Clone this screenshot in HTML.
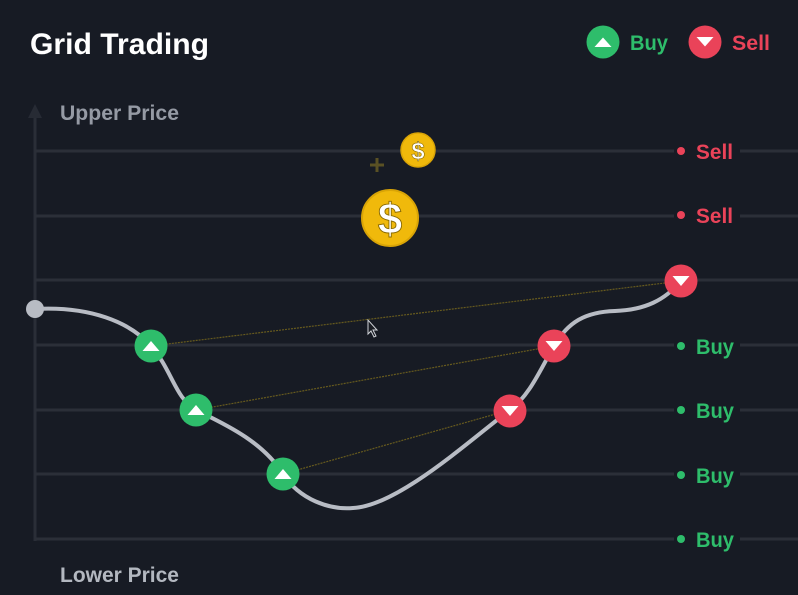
<!DOCTYPE html>
<html>
<head>
<meta charset="utf-8">
<style>
html,body{margin:0;padding:0;background:#171b24;}
svg{display:block;}
text{font-family:"Liberation Sans",sans-serif;font-weight:bold;}
</style>
</head>
<body>
<svg width="798" height="595" viewBox="0 0 798 595" xmlns="http://www.w3.org/2000/svg">
  <rect width="798" height="595" fill="#171b24"/>

  <!-- Title -->
  <text x="30" y="54" font-size="30" fill="#ffffff" textLength="179" lengthAdjust="spacingAndGlyphs">Grid Trading</text>

  <!-- Legend -->
  <circle cx="603" cy="42" r="16.5" fill="#2ebd6b"/>
  <polygon points="594.5,47 611.5,47 603,37.5" fill="#ffffff"/>
  <text x="630" y="50" font-size="21" fill="#2ebd6b" textLength="38" lengthAdjust="spacingAndGlyphs">Buy</text>
  <circle cx="705" cy="42" r="16.5" fill="#ea4359"/>
  <polygon points="696.5,37 713.5,37 705,46.5" fill="#ffffff"/>
  <text x="732" y="50" font-size="21" fill="#ea4359" textLength="38" lengthAdjust="spacingAndGlyphs">Sell</text>

  <!-- Axis -->
  <line x1="35" y1="114" x2="35" y2="541" stroke="#2a2e37" stroke-width="3"/>
  <polygon points="28,118 42,118 35,104" fill="#272b34"/>
  <text x="60" y="120" font-size="21" fill="#959aa4" textLength="119" lengthAdjust="spacingAndGlyphs">Upper Price</text>
  <text x="60" y="582" font-size="21" fill="#b3b8c0" textLength="119" lengthAdjust="spacingAndGlyphs">Lower Price</text>

  <!-- Gridlines -->
  <g stroke="#2b2f38" stroke-width="3">
    <line x1="35" y1="151" x2="674" y2="151"/><line x1="740" y1="151" x2="798" y2="151"/>
    <line x1="35" y1="216" x2="674" y2="216"/><line x1="740" y1="216" x2="798" y2="216"/>
    <line x1="35" y1="280" x2="798" y2="280"/>
    <line x1="35" y1="345" x2="674" y2="345"/><line x1="740" y1="345" x2="798" y2="345"/>
    <line x1="35" y1="410" x2="674" y2="410"/><line x1="740" y1="410" x2="798" y2="410"/>
    <line x1="35" y1="474" x2="674" y2="474"/><line x1="740" y1="474" x2="798" y2="474"/>
    <line x1="35" y1="539" x2="674" y2="539"/><line x1="740" y1="539" x2="798" y2="539"/>
  </g>

  <!-- Right labels -->
  <circle cx="681" cy="151" r="4" fill="#ea4359"/>
  <text x="696" y="159" font-size="21" fill="#ea4359" textLength="37" lengthAdjust="spacingAndGlyphs">Sell</text>
  <circle cx="681" cy="215" r="4" fill="#ea4359"/>
  <text x="696" y="223" font-size="21" fill="#ea4359" textLength="37" lengthAdjust="spacingAndGlyphs">Sell</text>
  <circle cx="681" cy="346" r="4" fill="#2ebd6b"/>
  <text x="696" y="354" font-size="21" fill="#2ebd6b" textLength="38" lengthAdjust="spacingAndGlyphs">Buy</text>
  <circle cx="681" cy="410" r="4" fill="#2ebd6b"/>
  <text x="696" y="418" font-size="21" fill="#2ebd6b" textLength="38" lengthAdjust="spacingAndGlyphs">Buy</text>
  <circle cx="681" cy="475" r="4" fill="#2ebd6b"/>
  <text x="696" y="483" font-size="21" fill="#2ebd6b" textLength="38" lengthAdjust="spacingAndGlyphs">Buy</text>
  <circle cx="681" cy="539" r="4" fill="#2ebd6b"/>
  <text x="696" y="547" font-size="21" fill="#2ebd6b" textLength="38" lengthAdjust="spacingAndGlyphs">Buy</text>

  <!-- Dotted connector lines -->
  <g stroke="#665a1e" stroke-width="1.2" stroke-dasharray="2,1">
    <line x1="151" y1="346" x2="681" y2="281"/>
    <line x1="196" y1="410" x2="554" y2="346"/>
    <line x1="283" y1="474" x2="510" y2="410"/>
  </g>

  <!-- Coins -->
  <g stroke="#5a5124" stroke-width="3">
    <line x1="370" y1="165" x2="384" y2="165"/>
    <line x1="377" y1="158" x2="377" y2="172"/>
  </g>
  <circle cx="418" cy="150" r="17" fill="#f0b90b" stroke="#d9a406" stroke-width="1.5"/>
  <text x="418" y="159" font-size="24" fill="#ffffff" stroke="#8a6a00" stroke-width="0.6" text-anchor="middle">$</text>
  <circle cx="390" cy="218" r="28" fill="#f0b90b" stroke="#d9a406" stroke-width="2"/>
  <text x="390" y="234" font-size="44" fill="#ffffff" stroke="#8a6a00" stroke-width="0.9" text-anchor="middle">$</text>

  <!-- Curve -->
  <path d="M35,309 C90,306 130,322 151,346 C172,370 175,398 196,410 C220,422 262,440 283,474 C300,500 330,510 353,508 C398,506 470,440 510,410 C530,395 540,370 554,346 C568,322 585,312 615,311 C645,310 665,300 681,281"
        fill="none" stroke="#b8bcc4" stroke-width="4" stroke-linecap="round"/>
  <circle cx="35" cy="309" r="9" fill="#b8bcc4"/>

  <!-- Buy markers -->
  <g fill="#2ebd6b">
    <circle cx="151" cy="346" r="16.5"/>
    <circle cx="196" cy="410" r="16.5"/>
    <circle cx="283" cy="474" r="16.5"/>
  </g>
  <g fill="#ffffff">
    <polygon points="142.5,351 159.5,351 151,341"/>
    <polygon points="187.5,415 204.5,415 196,405"/>
    <polygon points="274.5,479 291.5,479 283,469"/>
  </g>

  <!-- Sell markers -->
  <g fill="#ea4359">
    <circle cx="510" cy="411" r="16.5"/>
    <circle cx="554" cy="346" r="16.5"/>
    <circle cx="681" cy="281" r="16.5"/>
  </g>
  <g fill="#ffffff">
    <polygon points="501.5,406 518.5,406 510,416"/>
    <polygon points="545.5,341 562.5,341 554,351"/>
    <polygon points="672.5,276 689.5,276 681,286"/>
  </g>

  <!-- Cursor -->
  <polygon points="368,320 368,334 371,331 374,337 376,336 373,330 377,330" fill="#1a1d24" stroke="#d0d3d8" stroke-width="1"/>
</svg>
</body>
</html>
